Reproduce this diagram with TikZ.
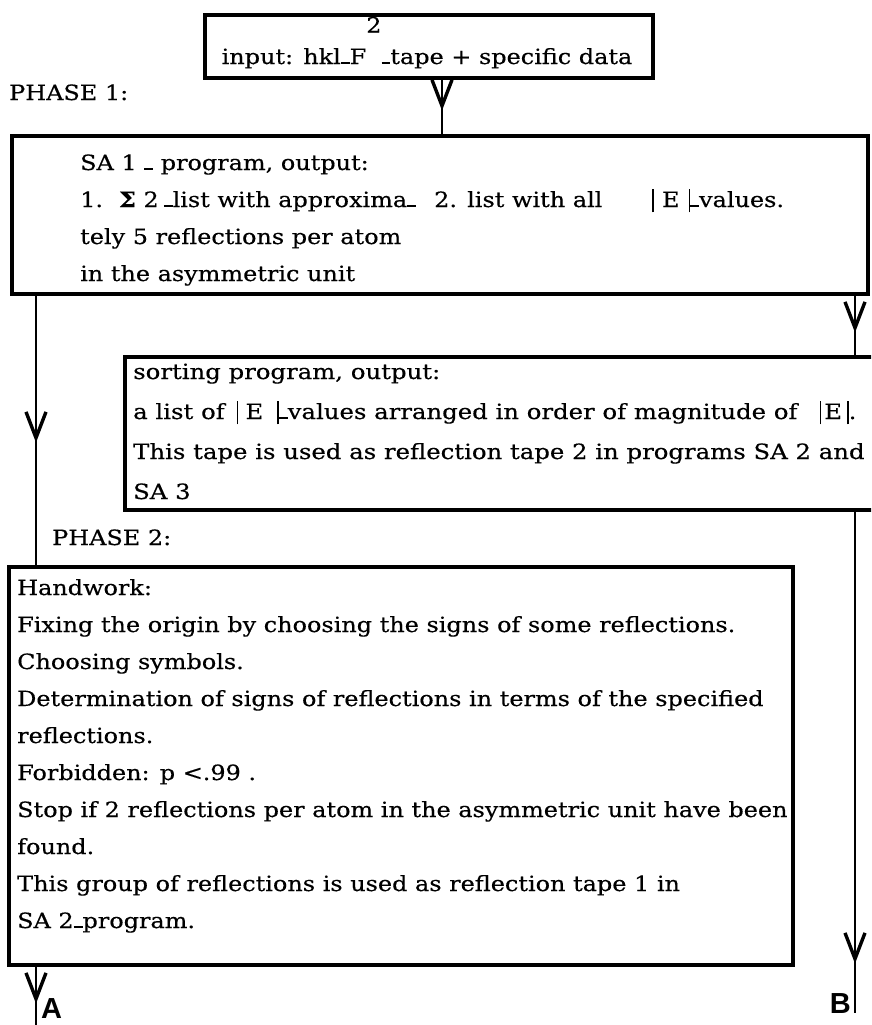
\documentclass[tikz,border=0pt]{standalone}
\usepackage{fontspec}
\setmainfont{DejaVu Serif}[FakeStretch=1.14,FakeBold=0.4]
\newfontfamily\labelfont{Liberation Sans}
\usetikzlibrary{arrows.meta,calc}

% low typewriter dash and tall absolute-value bars
\newcommand\lowdash{\rule[0.02em]{0.42em}{0.09em}}
\newcommand\vbar{\rule[-0.25em]{1.7pt}{1.12em}}

\begin{document}
\begin{tikzpicture}[x=1pt,y=-1pt,
  box/.style={draw, line width=3.6pt, inner sep=0pt, anchor=north west},
  txt/.style={anchor=base west, inner sep=0pt, font=\fontsize{21}{25}\selectfont},
  widetxt/.style={txt, font=\fontsize{21}{25}\selectfont\addfontfeature{FakeStretch=1.16}},
  flow/.style={line width=2.8pt},
  head/.style={line width=2.8pt, -{Straight Barb[length=26pt,width=20pt,line width=3.4pt]}},
  letter/.style={inner sep=0pt, text depth=0pt, font=\labelfont\bfseries\fontsize{29}{29}\selectfont}]

\useasboundingbox (0,0) rectangle (871,1025);
\clip (0,0) rectangle (871,1025);

% boxes
\node[box, minimum width=448pt, minimum height=63pt]  (in)   at (203,13)  {};
\node[box, minimum width=856pt, minimum height=158pt] (sa1)  at (10,134)  {};
\node[box, minimum width=800pt, minimum height=153pt] (sort) at (123,355) {};
\node[box, minimum width=784pt, minimum height=398pt] (hw)   at (7,565)   {};

% input
\node[txt, anchor=base] (intext) at (427,64)
  {input: hkl\lowdash F\raisebox{1.5em}{2}\lowdash tape + specific data};

% phase labels
\node[txt] (ph1) at (9,100) {PHASE 1:};
\node[txt] (ph2) at (52,545) {PHASE 2:};

% SA 1 program
\node[txt] (sa1a) at (80,170) {SA 1 \lowdash\ program, output:};
\node[txt] (sa1b) at (80,207) {1.\hspace{16pt}\textbf{Σ} 2\hspace{5pt}\lowdash list with approxima\lowdash};
\node[txt] (sa1c) at (434,207)
  {2. list with all\hspace{50pt}\vbar\kern8pt E\kern9pt\vbar\lowdash values.};
\node[txt] (sa1d) at (80,244) {tely 5 reflections per atom};
\node[txt] (sa1e) at (80,281) {in the asymmetric unit};

% sorting program
\node[widetxt] (so1) at (133,379) {sorting program, output:};
\node[widetxt] (so2) at (133,419)
  {a list of\hspace{12pt}\vbar\kern7pt E\kern14pt\vbar\lowdash values arranged in order of magnitude of\hspace{22pt}\vbar\kern3pt E\kern5pt\vbar.};
\node[widetxt] (so3) at (133,459) {This tape is used as reflection tape 2 in programs SA 2 and};
\node[widetxt] (so4) at (133,499) {SA 3};

% handwork
\foreach \t [count=\i from 0] in {
  Handwork:,
  Fixing the origin by choosing the signs of some reflections.,
  Choosing symbols.,
  Determination of signs of reflections in terms of the specified,
  reflections.,
  {Forbidden: p <.99 .},
  Stop if 2 reflections per atom in the asymmetric unit have been,
  found.,
  This group of reflections is used as reflection tape 1 in,
  SA 2\lowdash program.}
  \node[txt] (hw-\i) at (17,595+37*\i) {\t};

% connector columns and free ends
\coordinate (cx-top) at (442,0);
\coordinate (cx-left) at (36,0);
\coordinate (cx-right) at (855,0);
\coordinate (a-end) at (36,1032);
\coordinate (b-end) at (855,1013);

\coordinate (t0) at (in.south -| cx-top);
\coordinate (t1) at (sa1.north -| cx-top);
\coordinate (l0) at (sa1.south -| cx-left);
\coordinate (l1) at (hw.north -| cx-left);
\coordinate (r0) at (sa1.south -| cx-right);
\coordinate (r1) at (sort.north -| cx-right);
\coordinate (s0) at (sort.south -| cx-right);
\coordinate (h0) at (hw.south -| cx-left);

% connectors, each with its arrowhead part way along
\draw[flow] (t0) -- (t1);
\draw[head] (t0) -- ($(t0)!31pt!(t1)$);
\draw[flow] (l0) -- (l1);
\draw[head] (l0) -- ($(l0)!147pt!(l1)$);
\draw[flow] (r0) -- (r1);
\draw[head] (r0) -- ($(r0)!37pt!(r1)$);
\draw[flow] (s0) -- (b-end);
\draw[head] (s0) -- ($(s0)!452pt!(b-end)$);
\draw[flow] (h0) -- (a-end);
\draw[head] (h0) -- ($(h0)!37pt!(a-end)$);

\node[letter, anchor=base west] (lblA) at (41,1018) {A};
\node[letter, anchor=base east] (lblB) at (851,1013) {B};
\end{tikzpicture}
\end{document}
